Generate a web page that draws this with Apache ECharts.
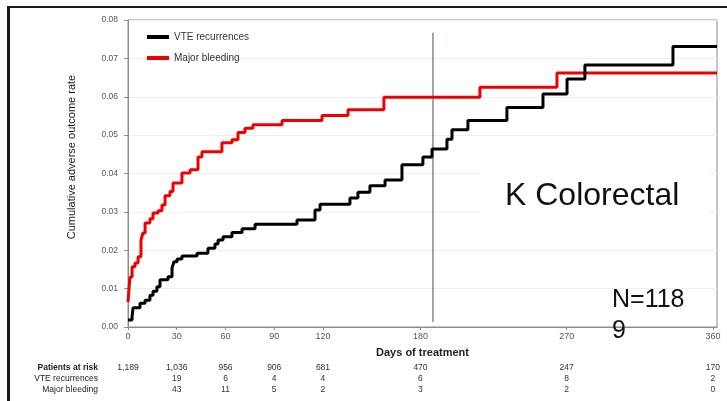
<!DOCTYPE html>
<html>
<head>
<meta charset="utf-8">
<script src="https://cdn.jsdelivr.net/npm/echarts@6/dist/echarts.min.js"></script>
<style>
  html, body { margin: 0; padding: 0; background: #fff; }
  #chart { width: 727px; height: 401px; }
</style>
</head>
<body>
<div id="chart"></div>
<script>
// Cumulative adverse outcome rate (step curves), days of treatment
const vteDays = [0, 2.5, 3.1, 7.4, 10.5, 13.5, 15.4, 17.8, 19.7, 24.6, 27.1, 28.3, 30.2, 33.2, 42.5, 49.2, 53.5, 55.4, 58.5, 64, 70.2, 78.2, 104, 115.1, 118.2, 136.6, 141.5, 148.9, 158.2, 168.6, 181.5, 187.1, 196.3, 199.4, 209.2, 233.2, 255.4, 270.2, 281.2, 335.4, 362.5];
const vteRate = [0.0018, 0.0027, 0.005, 0.0062, 0.007, 0.0083, 0.0093, 0.0105, 0.0123, 0.0131, 0.0154, 0.017, 0.0177, 0.0185, 0.0192, 0.0205, 0.0216, 0.0227, 0.0235, 0.0246, 0.0256, 0.0268, 0.0279, 0.0305, 0.032, 0.0336, 0.0351, 0.0368, 0.0383, 0.0423, 0.0443, 0.0464, 0.0489, 0.0514, 0.0538, 0.0572, 0.0607, 0.0646, 0.0683, 0.0731, 0.0731];

const bleedDays = [0, 1.2, 2.5, 4.3, 6.2, 8, 9.2, 10.5, 13.5, 15.4, 18.5, 20.9, 22.8, 25.8, 27.7, 33.2, 38.2, 43.1, 45.5, 57.8, 64, 67.7, 72, 76.9, 94.8, 119.4, 135.4, 157.5, 216.6, 264, 362.5];
const bleedRate = [0.0065, 0.013, 0.0157, 0.0167, 0.0183, 0.0227, 0.0245, 0.0271, 0.0282, 0.0297, 0.0303, 0.0318, 0.0342, 0.0353, 0.0375, 0.0401, 0.041, 0.0443, 0.0457, 0.048, 0.0488, 0.0507, 0.0518, 0.0527, 0.0538, 0.0551, 0.0566, 0.0599, 0.0625, 0.0662, 0.0662];

// Reference marker line (day, rate range)
const markerDay = [187.7, 187.7];
const markerRate = [0.0013, 0.0767];

// X tick labels and numbers-at-risk table
const dayTicks = [0, 30, 60, 90, 120, 180, 270, 360];
const atRisk = ['1,189', '1,036', '956', '906', '681', '470', '247', '170'];
const vteEvents = ['', '19', '6', '4', '4', '6', '8', '2'];
const bleedEvents = ['', '43', '11', '5', '2', '3', '2', '0'];
const rowNames = ['Patients at risk', 'VTE recurrences', 'Major bleeding'];

const seriesNames = ['VTE recurrences', 'Major bleeding'];
const FONT = 'Liberation Sans, Arial, sans-serif';

const zip = (xs, ys) => xs.map((x, i) => [x, ys[i]]);

const chart = echarts.init(document.getElementById('chart'), null, { renderer: 'canvas' });

const option = {
  animation: false,
  backgroundColor: '#ffffff',
  textStyle: { fontFamily: FONT },
  grid: {
    left: 128, right: 10, top: 20, bottom: 74,
    show: true, borderColor: '#8c8c8c', borderWidth: 1, backgroundColor: 'transparent'
  },
  legend: {
    orient: 'vertical',
    left: 147, top: 32, padding: 0,
    itemWidth: 22, itemHeight: 4, itemGap: 11,
    icon: 'rect',
    textStyle: { fontSize: 10, color: '#333', fontFamily: FONT },
    data: seriesNames
  },
  xAxis: {
    type: 'value', min: 0, max: 362.5,
    name: 'Days of treatment',
    nameLocation: 'middle', nameGap: 20,
    nameTextStyle: { fontSize: 11, fontWeight: 'bold', color: '#222', fontFamily: FONT },
    axisLine: { show: true, lineStyle: { color: '#8c8c8c' } },
    axisTick: { show: true, length: 3, customValues: dayTicks, lineStyle: { color: '#8c8c8c' } },
    axisLabel: { customValues: dayTicks, fontSize: 9, color: '#555', margin: 5, fontFamily: FONT },
    splitLine: { show: false }
  },
  yAxis: {
    type: 'value', min: 0, max: 0.08, interval: 0.01,
    axisLine: { show: true, lineStyle: { color: '#8c8c8c' } },
    axisTick: { show: true, length: 4, lineStyle: { color: '#8c8c8c' } },
    axisLabel: { fontSize: 8.5, color: '#555', margin: 10, fontFamily: FONT, formatter: v => v.toFixed(2) },
    splitLine: { show: true, lineStyle: { color: '#efefef', width: 1 } }
  },
  series: [
    {
      type: 'line', name: 'marker', silent: true, symbol: 'none',
      lineStyle: { color: '#4a4f5a', width: 1 },
      data: zip(markerDay, markerRate), z: 1
    },
    {
      type: 'line', name: seriesNames[0], step: 'end', symbol: 'none',
      color: '#000000',
      lineStyle: { color: '#000000', width: 3 },
      data: zip(vteDays, vteRate), z: 3
    },
    {
      type: 'line', name: seriesNames[1], step: 'end', symbol: 'none',
      color: '#ee0000',
      lineStyle: { color: '#ee0000', width: 3 },
      data: zip(bleedDays, bleedRate), z: 2
    }
  ]
};

chart.setOption(option);

// Frame, axis title, annotations and the numbers-at-risk table
const graphics = [
  { type: 'rect', shape: { x: 7, y: 6, width: 720, height: 2 }, style: { fill: '#1a1a1a' }, z: 20 },
  { type: 'rect', shape: { x: 7, y: 6, width: 3, height: 395 }, style: { fill: '#1a1a1a' }, z: 20 },
  {
    type: 'text', x: 72, y: 157, rotation: Math.PI / 2, z: 20,
    style: { text: 'Cumulative adverse outcome rate', fontSize: 11, fill: '#1a1a1a', fontFamily: FONT, align: 'center', verticalAlign: 'middle' }
  },
  {
    type: 'text', x: 480, y: 168, z: 10,
    style: {
      text: 'K Colorectal', fontSize: 32, fill: '#111', fontFamily: FONT,
      align: 'left', verticalAlign: 'top',
      backgroundColor: '#ffffff', padding: [12, 30, 14, 25]
    }
  },
  {
    type: 'text', x: 612, y: 285, z: 10,
    style: { text: 'N=118\n9', fontSize: 25, lineHeight: 31, fill: '#111', fontFamily: FONT, align: 'left', verticalAlign: 'top' }
  }
];

const rowY = [368, 379, 390];
rowNames.forEach((name, r) => {
  graphics.push({
    type: 'text', x: 98, y: rowY[r], z: 20,
    style: { text: name, fontSize: 8.5, fontWeight: r === 0 ? 'bold' : 'normal', fill: '#222', fontFamily: FONT, align: 'right', verticalAlign: 'middle' }
  });
});
const tableRows = [atRisk, vteEvents, bleedEvents];
dayTicks.forEach((d, i) => {
  const px = chart.convertToPixel({ xAxisIndex: 0 }, d);
  tableRows.forEach((row, r) => {
    if (!row[i]) return;
    graphics.push({
      type: 'text', x: px, y: rowY[r], z: 20,
      style: { text: row[i], fontSize: 8.5, fill: '#333', fontFamily: FONT, align: 'center', verticalAlign: 'middle' }
    });
  });
});

chart.setOption({ graphic: graphics });
</script>
</body>
</html>
